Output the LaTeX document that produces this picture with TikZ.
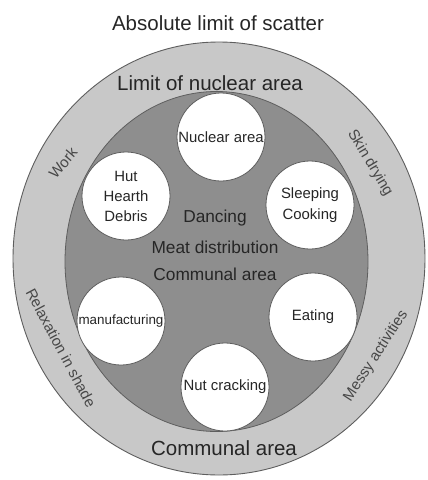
\documentclass[tikz,border=0pt]{standalone}
\usepackage{fontspec}
\setmainfont{Liberation Sans}
\usetikzlibrary{positioning}
\definecolor{ringgray}{HTML}{C8C8C8}
\definecolor{coregray}{HTML}{8E8E8E}
\definecolor{edgegray}{HTML}{5E5E5E}
\definecolor{inkgray}{HTML}{262626}

\begin{document}
\begin{tikzpicture}[x=1pt,y=-1pt,every node/.style={text=inkgray,align=center,inner sep=0pt},
    spot/.style={circle,draw=edgegray,line width=0.8pt,fill=white,minimum size=88pt,font=\fontsize{14.9}{19}\selectfont},
    ring/.style={font=\fontsize{15}{18}\selectfont,text=inkgray!85}]
      \useasboundingbox (0,0) rectangle (428,480);
      \draw[edgegray,line width=0.9pt,fill=ringgray] (219,258.5) ellipse [x radius=206,y radius=216.5];
      \draw[edgegray,line width=0.8pt,fill=coregray] (216.5,261.5) ellipse [x radius=151.5,y radius=170];
      \node[spot] (nuc) at (221,137) {Nuclear area};
      \node[spot] (hut) at (126,196) {Hut\\[1pt]Hearth\\[1pt]Debris};
      \node[spot] (sleep) at (310,205) {Sleeping\\[2pt]Cooking};
      \node[spot,font=\fontsize{13.4}{16}\selectfont] (manu) at (121,321) {manufacturing};
      \node[spot] (eat) at (313,317) {Eating};
      \node[spot] (nut) at (225,387) {Nut cracking};
      \node[font=\fontsize{20.5}{24}\selectfont] (title) at (218,23) {Absolute limit of scatter};
      \node[font=\fontsize{20.5}{24}\selectfont] (lim) at (210,83) {Limit of nuclear area};
      \node[font=\fontsize{20.5}{24}\selectfont] (comm) at (224,448) {Communal area};
      \node[font=\fontsize{17.3}{20}\selectfont] (dance) at (215,218) {Dancing};
      \node[font=\fontsize{17.3}{20}\selectfont] (meat) at (215,247) {Meat distribution};
      \node[font=\fontsize{17.3}{20}\selectfont] (core) at (215,274) {Communal area};
      \node[ring,rotate=50] (work) at (63,163) {Work};
      \node[ring,rotate=-59] (skin) at (370,163) {Skin drying};
      \node[ring,rotate=-62] (relax) at (61,348) {Relaxation in shade};
      \node[ring,rotate=57] (messy) at (376,356) {Messy activities};
    \end{tikzpicture}
\end{document}
